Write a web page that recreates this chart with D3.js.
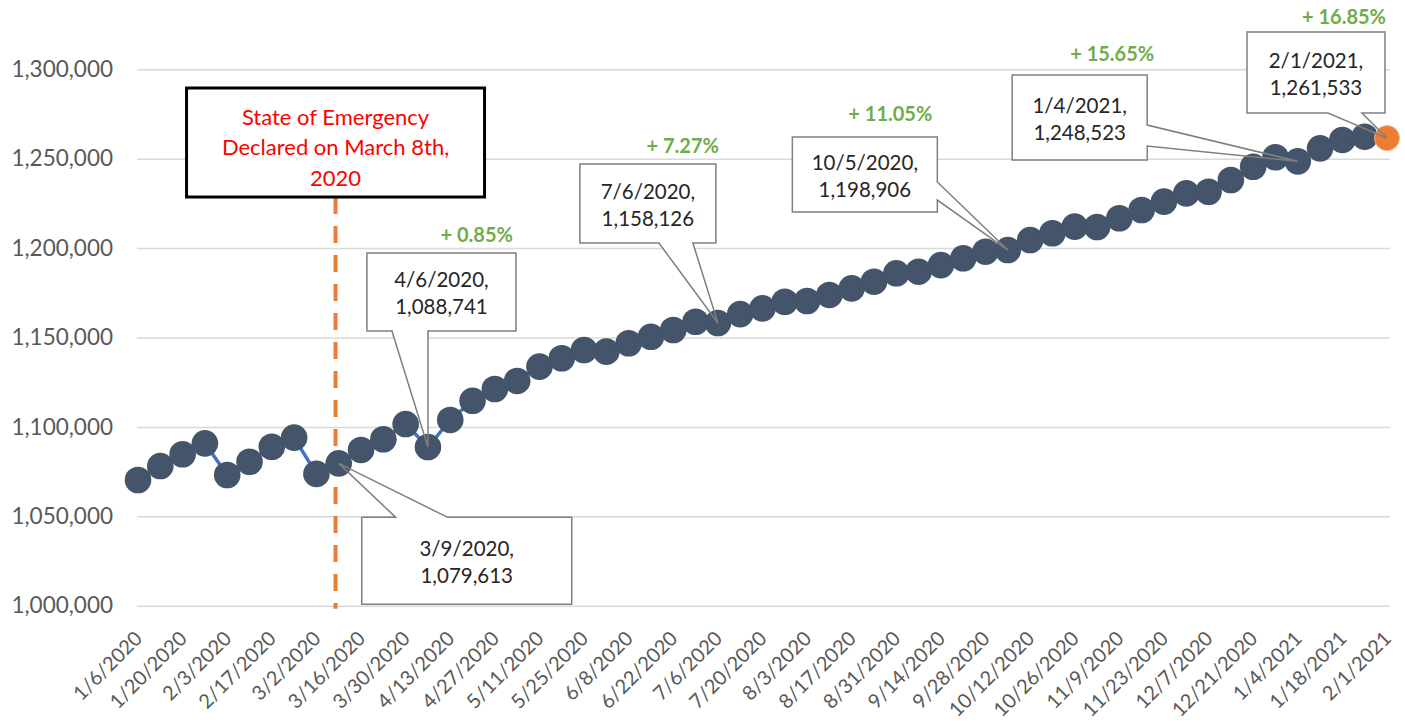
<!DOCTYPE html>
<html>
<head>
<meta charset="utf-8">
<script src="https://cdn.jsdelivr.net/npm/d3@7"></script>
<style>
  body { margin: 0; background: #fff; }
  svg text { font-family: Lato, "Open Sans", sans-serif; }
</style>
</head>
<body>
<svg id="chart" width="1405" height="726"></svg>
<script>
// weekly enrollment
const weeks = [
  "1/6/2020","1/13/2020","1/20/2020","1/27/2020","2/3/2020","2/10/2020","2/17/2020","2/24/2020",
  "3/2/2020","3/9/2020","3/16/2020","3/23/2020","3/30/2020","4/6/2020","4/13/2020","4/20/2020",
  "4/27/2020","5/4/2020","5/11/2020","5/18/2020","5/25/2020","6/1/2020","6/8/2020","6/15/2020",
  "6/22/2020","6/29/2020","7/6/2020","7/13/2020","7/20/2020","7/27/2020","8/3/2020","8/10/2020",
  "8/17/2020","8/24/2020","8/31/2020","9/7/2020","9/14/2020","9/21/2020","9/28/2020","10/5/2020",
  "10/12/2020","10/19/2020","10/26/2020","11/2/2020","11/9/2020","11/16/2020","11/23/2020","11/30/2020",
  "12/7/2020","12/14/2020","12/21/2020","12/28/2020","1/4/2021","1/11/2021","1/18/2021","1/25/2021",
  "2/1/2021"
];
const enrollment = [
  1070300,1078100,1084700,1090800,1073100,1080500,1088900,1094000,
  1073700,1079613,1087100,1093100,1101600,1088741,1103900,1114600,
  1121200,1125700,1133700,1138400,1143000,1142100,1146800,1150400,
  1154200,1158800,1158126,1163100,1166300,1170000,1170400,1173800,
  1177500,1181200,1185900,1186800,1190500,1194300,1198000,1198906,
  1204500,1208300,1212000,1211800,1216700,1221300,1226000,1230600,
  1231500,1238100,1245500,1250800,1248523,1255800,1260500,1262300,
  1261533
];
const tickLabels = [
  "1/6/2020","1/20/2020","2/3/2020","2/17/2020","3/2/2020","3/16/2020","3/30/2020","4/13/2020",
  "4/27/2020","5/11/2020","5/25/2020","6/8/2020","6/22/2020","7/6/2020","7/20/2020","8/3/2020",
  "8/17/2020","8/31/2020","9/14/2020","9/28/2020","10/12/2020","10/26/2020","11/9/2020","11/23/2020",
  "12/7/2020","12/21/2020","1/4/2021","1/18/2021","2/1/2021"
];
const yTicks = [1000000,1050000,1100000,1150000,1200000,1250000,1300000];
const emergencyDate = "3/8/2020";
const emergencyText = ["State of Emergency","Declared on March 8th,","2020"];
const baseWeek = "3/9/2020";
const calloutWeeks = ["3/9/2020","4/6/2020","7/6/2020","10/5/2020","1/4/2021","2/1/2021"];

const parse = d3.utcParse("%-m/%-d/%Y");
const fmtDate = d3.utcFormat("%-m/%-d/%Y");
const fmtNum = d3.format(",");
const data = weeks.map((w, i) => ({ date: parse(w), key: w, value: enrollment[i] }));

const svg = d3.select("#chart");
const left = 137, right = 1390;

const x = d3.scaleUtc()
  .domain([parse(weeks[0]), parse(weeks[weeks.length - 1])])
  .range([138, 1387]);
const y = d3.scaleLinear()
  .domain([1000000, 1300000])
  .range([605.7, 69.3]);

// y axis + gridlines
const yAxis = svg.append("g")
  .attr("transform", `translate(${left},0)`)
  .call(d3.axisLeft(y).tickValues(yTicks).tickFormat(fmtNum)
    .tickSizeInner(-(right - left)).tickSizeOuter(0).tickPadding(24));
yAxis.select(".domain").remove();
yAxis.selectAll("line").attr("stroke", "#d9d9d9").attr("stroke-width", 1.5);
yAxis.selectAll("text").attr("fill", "#595959").style("font-size", "22.5px");

// x axis labels
const xAxis = svg.append("g")
  .attr("transform", `translate(0,${y(1000000)})`)
  .call(d3.axisBottom(x).tickValues(tickLabels.map(parse)).tickFormat(fmtDate).tickSize(0));
xAxis.select(".domain").remove();
xAxis.selectAll("text")
  .attr("x", 0).attr("y", 0).attr("dy", 0)
  .attr("transform", "translate(5,34) rotate(-45)")
  .style("text-anchor", "end")
  .style("font-size", "20px")
  .attr("fill", "#595959");

// emergency marker
const ex = x(parse(emergencyDate));
svg.append("line")
  .attr("x1", ex).attr("x2", ex)
  .attr("y1", 197).attr("y2", y(1000000) + 3)
  .attr("stroke", "#ed7d31").attr("stroke-width", 4)
  .attr("stroke-dasharray", "17,12");
svg.append("rect")
  .attr("x", ex - 149).attr("y", 88).attr("width", 298).attr("height", 109)
  .attr("fill", "#fff").attr("stroke", "#000").attr("stroke-width", 3);
svg.append("g").selectAll("text").data(emergencyText).join("text")
  .attr("x", ex).attr("y", (d, i) => 117 + i * 30.5)
  .attr("dy", "0.35em")
  .attr("text-anchor", "middle")
  .attr("fill", "#ff0000")
  .style("font-size", "22px")
  .text(d => d);

// callout layout: box offset from point, wedge side and wedge span on that side
const layout = {
  "3/9/2020":  { dx: 23,     dy: 54,     w: 210, h: 87, side: "top",    a: 34, b: 86 },
  "4/6/2020":  { dx: -61,    dy: -194,   w: 149, h: 78, side: "bottom", a: 25, b: 61 },
  "7/6/2020":  { dx: -138,   dy: -159,   w: 136, h: 79, side: "bottom", a: 79, b: 113 },
  "10/5/2020": { dx: -215.5, dy: -113,   w: 145, h: 75, side: "right",  a: 45, b: 63 },
  "1/4/2021":  { dx: -285.6, dy: -86.3,  w: 135, h: 85, side: "right",  a: 50, b: 71 },
  "2/1/2021":  { dx: -140,   dy: -106,   w: 138, h: 81, side: "bottom", a: 81, b: 115 }
};
const pctOffset = {
  "4/6/2020": [-3, -18], "7/6/2020": [3, -18], "10/5/2020": [-5, -23],
  "1/4/2021": [7, -21], "2/1/2021": [1, -15]
};

const baseValue = enrollment[weeks.indexOf(baseWeek)];
const callouts = calloutWeeks.map(w => {
  const d = data[weeks.indexOf(w)];
  const px = x(d.date), py = y(d.value), L = layout[w];
  const bx = px + L.dx, by = py + L.dy;
  return { d, px, py, bx, by, L };
});

function calloutPath(c) {
  const { px, py, bx, by, L } = c;
  const p = d3.path();
  const x0 = bx, y0 = by, x1 = bx + L.w, y1 = by + L.h;
  p.moveTo(x0, y0);
  if (L.side === "top") { p.lineTo(x0 + L.a, y0); p.lineTo(px, py); p.lineTo(x0 + L.b, y0); }
  p.lineTo(x1, y0);
  if (L.side === "right") { p.lineTo(x1, y0 + L.a); p.lineTo(px, py); p.lineTo(x1, y0 + L.b); }
  p.lineTo(x1, y1);
  if (L.side === "bottom") { p.lineTo(x0 + L.b, y1); p.lineTo(px, py); p.lineTo(x0 + L.a, y1); }
  p.lineTo(x0, y1);
  p.closePath();
  return p.toString();
}

// callout fills sit under the series
svg.append("g").selectAll("path").data(callouts).join("path")
  .attr("d", calloutPath).attr("fill", "#fff");

// series
const line = d3.line().x(d => x(d.date)).y(d => y(d.value));
svg.append("path").datum(data)
  .attr("d", line).attr("fill", "none")
  .attr("stroke", "#4472c4").attr("stroke-width", 3.5);
svg.append("g").selectAll("circle").data(data).join("circle")
  .attr("cx", d => x(d.date)).attr("cy", d => y(d.value))
  .attr("r", (d, i) => i === data.length - 1 ? 12.5 : 13.3)
  .attr("fill", (d, i) => i === data.length - 1 ? "#ed7d31" : "#44546a")
  .attr("stroke", (d, i) => i === data.length - 1 ? "#f4b183" : "none")
  .attr("stroke-width", 1);

// callout outlines + text
const cg = svg.append("g").selectAll("g").data(callouts).join("g");
cg.append("path").attr("d", calloutPath)
  .attr("fill", "none").attr("stroke", "#7f7f7f").attr("stroke-width", 1.5);
cg.append("text")
  .attr("x", c => c.bx + c.L.w / 2)
  .attr("y", c => c.by + c.L.h / 2 - 12)
  .attr("dy", "0.35em").attr("text-anchor", "middle")
  .attr("fill", "#262626").style("font-size", "20.5px")
  .text(c => c.d.key + ",");
cg.append("text")
  .attr("x", c => c.bx + c.L.w / 2)
  .attr("y", c => c.by + c.L.h / 2 + 15)
  .attr("dy", "0.35em").attr("text-anchor", "middle")
  .attr("fill", "#262626").style("font-size", "20.5px")
  .text(c => fmtNum(c.d.value));

// growth vs. 3/9/2020
const fmtPct = d3.format(".2f");
svg.append("g").selectAll("text")
  .data(callouts.filter(c => pctOffset[c.d.key]))
  .join("text")
  .attr("x", c => c.bx + c.L.w + pctOffset[c.d.key][0])
  .attr("y", c => c.by + pctOffset[c.d.key][1])
  .attr("dy", "0.35em").attr("text-anchor", "end")
  .attr("fill", "#70ad47").style("font-size", "20px").style("font-weight", "bold")
  .text(c => "+ " + fmtPct((c.d.value / baseValue - 1) * 100) + "%");
</script>
</body>
</html>
